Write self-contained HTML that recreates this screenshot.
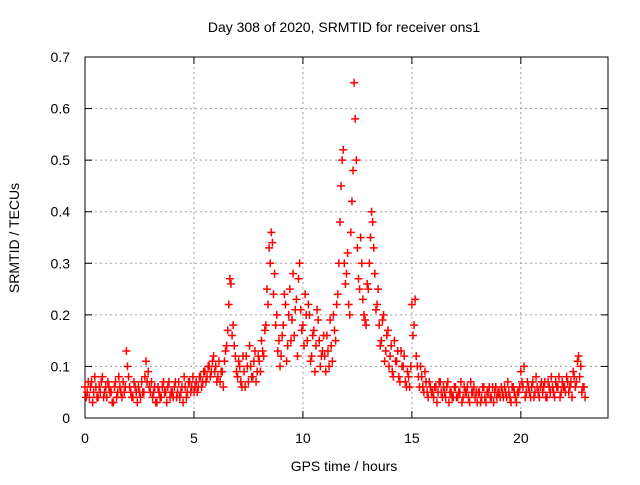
<!DOCTYPE html>
<html><head><meta charset="utf-8"><style>
body{margin:0;background:#fff}
svg text{font-family:"Liberation Sans",sans-serif;font-size:14px;fill:#000}
</style></head><body>
<svg id="c" width="640" height="480"></svg>
<script>
const xTicks=[0,5,10,15,20];
const yTicks=[0,0.1,0.2,0.3,0.4,0.5,0.6,0.7];
const yTickLabels=["0","0.1","0.2","0.3","0.4","0.5","0.6","0.7"];
const startA=0.0, startB=0.05, stepHours=0.1;
const seriesA=[.06,.05,.04,.07,.05,.06,.04,.05,.08,.05,
.04,.06,.05,.03,.07,.05,.06,.04,.05,.13,
.08,.05,.04,.06,.03,.05,.07,.05,.11,.09,
.05,.04,.06,.03,.05,.04,.07,.05,.06,.04,
.05,.06,.04,.07,.05,.03,.06,.05,.07,.06,
.05,.07,.06,.08,.07,.09,.08,.10,.09,.12,
.10,.08,.07,.09,.11,.14,.22,.26,.18,.12,
.08,.10,.06,.09,.12,.07,.10,.08,.13,.09,
.11,.15,.12,.18,.22,.30,.34,.28,.20,.15,
.12,.18,.22,.14,.25,.19,.16,.23,.27,.21,
.18,.24,.15,.20,.12,.17,.14,.19,.10,.13,
.12,.16,.10,.14,.20,.15,.24,.38,.50,.30,
.28,.22,.36,.48,.58,.33,.25,.30,.20,.18,
.25,.35,.38,.28,.22,.18,.15,.20,.13,.17,
.12,.09,.15,.11,.08,.13,.10,.07,.09,.06,
.22,.18,.12,.08,.10,.06,.09,.05,.07,.05,
.04,.06,.05,.07,.04,.05,.06,.03,.05,.04,
.06,.04,.05,.03,.06,.05,.04,.07,.05,.04,
.03,.05,.04,.06,.03,.05,.04,.06,.05,.04,
.05,.06,.04,.05,.07,.04,.06,.05,.03,.05,
.09,.06,.04,.07,.05,.06,.04,.08,.05,.06,
.05,.07,.04,.06,.08,.05,.07,.06,.04,.07,
.06,.08,.05,.07,.09,.06,.11,.08,.05,.06];
const seriesB=[.04,.07,.06,.03,.08,.04,.06,.07,.04,.06,
.07,.05,.03,.06,.04,.08,.05,.07,.06,.10,
.06,.04,.07,.05,.06,.04,.05,.08,.07,.06,
.07,.05,.03,.06,.04,.06,.05,.03,.07,.05,
.04,.07,.05,.04,.06,.08,.04,.07,.05,.08,
.06,.05,.08,.06,.09,.07,.10,.08,.11,.09,
.07,.11,.09,.06,.13,.17,.27,.16,.14,.09,
.11,.07,.12,.06,.10,.14,.08,.11,.07,.12,
.09,.13,.17,.25,.33,.36,.24,.18,.13,.10,
.16,.24,.11,.20,.15,.28,.21,.12,.30,.17,
.14,.20,.22,.11,.16,.09,.21,.15,.12,.16,
.09,.13,.19,.11,.17,.22,.30,.45,.52,.26,
.32,.20,.42,.65,.50,.27,.35,.23,.19,.26,
.30,.40,.33,.21,.25,.14,.19,.11,.16,.10,
.14,.08,.11,.13,.07,.10,.12,.06,.08,.10,
.16,.23,.10,.06,.08,.05,.07,.04,.06,.05,
.06,.03,.07,.05,.06,.04,.07,.05,.04,.06,
.04,.05,.07,.04,.05,.06,.03,.05,.06,.05,
.05,.03,.06,.04,.05,.06,.04,.03,.06,.05,
.04,.05,.06,.04,.05,.03,.06,.04,.05,.06,
.07,.10,.05,.06,.04,.07,.05,.06,.04,.07,
.06,.04,.07,.05,.06,.04,.06,.08,.05,.06,
.05,.07,.06,.04,.08,.07,.12,.10,.06,.04];

const L=85,R=608,T=57,B=418,XMAX=24,YMAX=0.7;
const X=v=>L+v/XMAX*(R-L), Y=v=>B-v/YMAX*(B-T);
const svg=document.getElementById('c'), NS='http://www.w3.org/2000/svg';
function mk(tag,at,parent){const e=document.createElementNS(NS,tag);for(const k in at)e.setAttribute(k,at[k]);(parent||svg).appendChild(e);return e;}
const grid=mk('g',{});


xTicks.forEach(t=>{if(t>0)mk('line',{x1:X(t),x2:X(t),y1:T,y2:B,stroke:'#a0a0a0','stroke-dasharray':'2,3'},grid);});
yTicks.forEach(t=>{if(t>0&&t<YMAX)mk('line',{x1:L,x2:R,y1:Y(t),y2:Y(t),stroke:'#a0a0a0','stroke-dasharray':'2,3'},grid);});
const ax=mk('g',{});


mk('rect',{x:L,y:T,width:R-L,height:B-T,fill:'none',stroke:'#000'},ax);
xTicks.forEach(t=>{
 mk('line',{x1:X(t),x2:X(t),y1:B,y2:B-7,stroke:'#000'},ax);
 mk('line',{x1:X(t),x2:X(t),y1:T,y2:T+7,stroke:'#000'},ax);
 const tx=mk('text',{x:X(t),y:B+25,'text-anchor':'middle'});tx.textContent=t;
 
 
});
yTicks.forEach((t,i)=>{
 mk('line',{x1:L,x2:L+7,y1:Y(t),y2:Y(t),stroke:'#000'},ax);
 mk('line',{x1:R,x2:R-7,y1:Y(t),y2:Y(t),stroke:'#000'},ax);
 const tx=mk('text',{x:L-15,y:Y(t)+5,'text-anchor':'end'});tx.textContent=yTickLabels[i];
 
 
});
const pts=mk('g',{stroke:'#ff0000','stroke-width':1.5});


function plot(arr,start){arr.forEach((v,i)=>{const px=X(start+i*stepHours),py=Y(v);
 const p=mk('path',{d:`M${px-4},${py}h8M${px},${py-4}v8`},pts);
 
 });}
plot(seriesA,startA);plot(seriesB,startB);
</script>
<svg width="640" height="480" style="position:absolute;left:0;top:0">
<text x="344" y="32" text-anchor="middle">Day 308 of 2020, SRMTID for receiver ons1</text>
<text x="344" y="471" text-anchor="middle">GPS time / hours</text>
<text x="19" y="238" text-anchor="middle" transform="rotate(-90 19 238)">SRMTID / TECUs</text>
</svg>
</body></html>
